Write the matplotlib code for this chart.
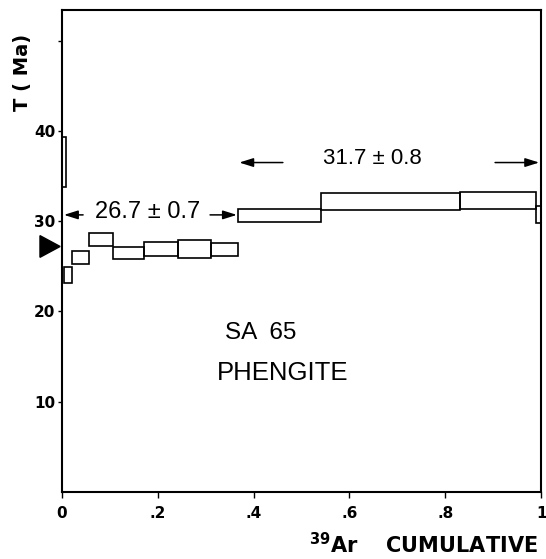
import matplotlib
matplotlib.use("Agg")
import matplotlib.pyplot as plt
from matplotlib.patches import Rectangle, Polygon

# step heating spectrum, sample SA 65 phengite
cum_start = [0.000, 0.005, 0.020, 0.056, 0.107, 0.171, 0.242, 0.312, 0.367, 0.541, 0.831, 0.990]
cum_end = [0.008, 0.020, 0.056, 0.107, 0.171, 0.242, 0.312, 0.367, 0.541, 0.831, 0.990, 1.000]
age_low = [33.8, 23.1, 25.3, 27.3, 25.8, 26.1, 25.9, 26.1, 29.9, 31.2, 31.4, 29.8]
age_high = [39.3, 24.9, 26.7, 28.7, 27.1, 27.7, 27.9, 27.6, 31.4, 33.1, 33.2, 31.7]

total_age = 27.2
plateau_low = "26.7 \u00b1 0.7"
plateau_high = "31.7 \u00b1 0.8"

x_ticks = [0, 0.2, 0.4, 0.6, 0.8, 1.0]
x_ticklabels = ["0", ".2", ".4", ".6", ".8", "1"]
y_ticks = [10, 20, 30, 40, 50]
y_ticklabels = ["10", "20", "30", "40", ""]


def main():
    fig = plt.figure(figsize=(5.46, 5.59), dpi=100)
    ax = fig.add_axes([0.1136, 0.1199, 0.8774, 0.8622])

    for x0, x1, lo, hi in zip(cum_start, cum_end, age_low, age_high):
        ax.add_patch(Rectangle((x0, lo), x1 - x0, hi - lo, fill=False,
                               edgecolor="k", lw=1.2))

    # total gas age marker
    tri = Polygon([[-0.046, total_age - 1.2], [-0.046, total_age + 1.2], [-0.004, total_age]],
                  closed=True, color="k", clip_on=False)
    ax.add_patch(tri)

    arrow = dict(arrowstyle="-|>,head_length=0.7,head_width=0.22", lw=1.1, color="k",
                 mutation_scale=12, shrinkA=0, shrinkB=0)
    ax.annotate("", xy=(0.004, 30.7), xytext=(0.044, 30.7), arrowprops=arrow)
    ax.annotate("", xy=(0.365, 30.7), xytext=(0.309, 30.7), arrowprops=arrow)
    ax.text(0.178, 31.0, plateau_low, ha="center", va="center",
            fontsize=17, family="Liberation Sans")

    ax.annotate("", xy=(0.370, 36.5), xytext=(0.461, 36.5), arrowprops=arrow)
    ax.annotate("", xy=(0.996, 36.5), xytext=(0.904, 36.5), arrowprops=arrow)
    ax.text(0.648, 36.9, plateau_high, ha="center", va="center",
            fontsize=16, family="Liberation Sans")

    ax.text(0.340, 17.6, "SA  65", ha="left", va="center",
            fontsize=17.5, family="Liberation Sans")
    ax.text(0.323, 13.2, "PHENGITE", ha="left", va="center",
            fontsize=18.5, family="Liberation Sans")

    ax.set_xlim(0, 1)
    ax.set_ylim(0, 53.4)
    ax.set_xticks(x_ticks)
    ax.set_xticklabels(x_ticklabels, fontweight="bold", fontsize=11)
    ax.set_yticks(y_ticks)
    ax.set_yticklabels(y_ticklabels, fontweight="bold", fontsize=11)
    ax.tick_params(axis="x", direction="out", length=4, width=1, pad=6)
    ax.tick_params(axis="y", direction="out", length=3, width=1, pad=2)
    for s in ax.spines.values():
        s.set_linewidth(1.5)

    fig.text(0.042, 0.870, "T ( Ma)", rotation=90, ha="center", va="center",
             fontsize=14, fontweight="bold")
    fig.text(0.986, 0.025, r"$\mathbf{^{39}}$Ar    CUMULATIVE", ha="right", va="center",
             fontsize=15, fontweight="bold")

    fig.savefig("out.png", dpi=100)
    plt.close(fig)


if __name__ == "__main__":
    main()
